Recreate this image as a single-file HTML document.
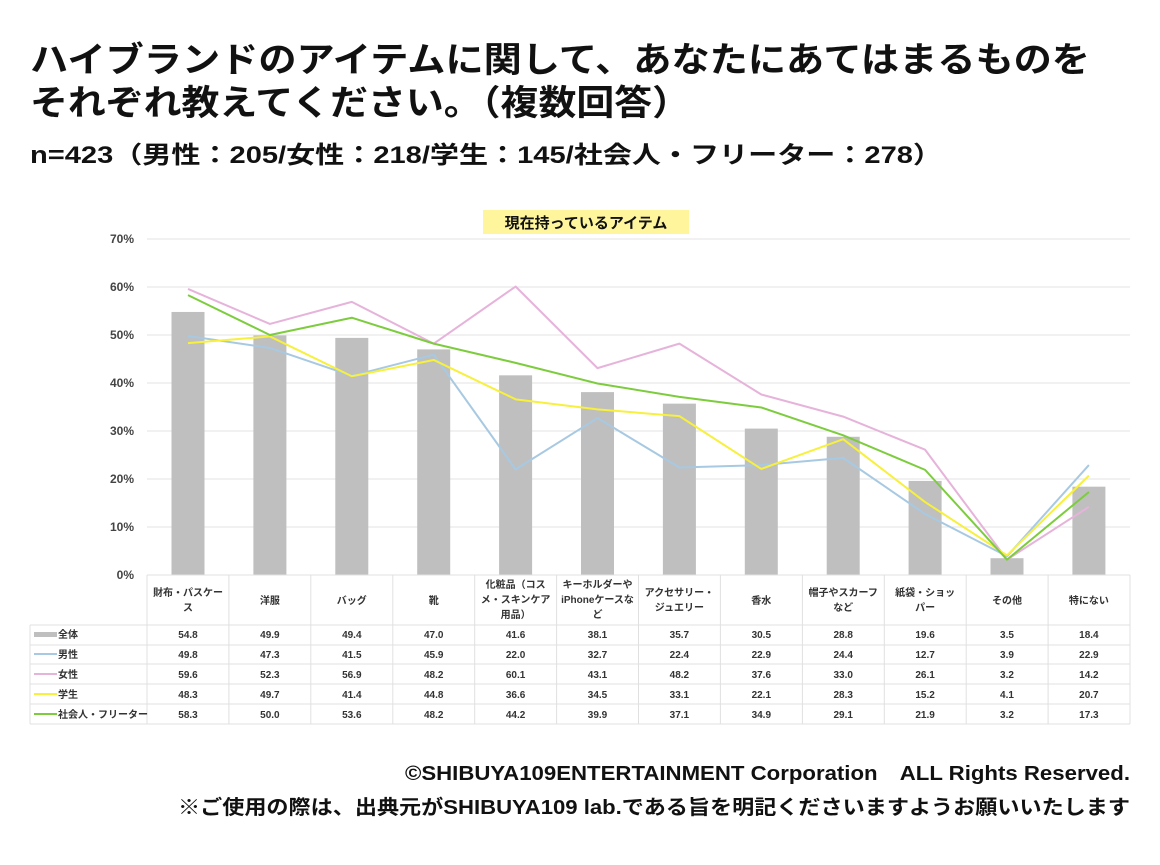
<!DOCTYPE html>
<html><head><meta charset="utf-8"><style>
body{margin:0;background:#fff;width:1160px;height:860px;overflow:hidden}
svg text{font-family:"Liberation Sans","Noto Sans CJK JP",sans-serif}
</style></head><body>
<svg width="1160" height="860" viewBox="0 0 1160 860" xmlns="http://www.w3.org/2000/svg">
<g font-weight="bold" fill="#111">
<text x="30" y="72" font-size="35" textLength="1060" lengthAdjust="spacingAndGlyphs">ハイブランドのアイテムに関して、あなたにあてはまるものを</text>
<text x="30" y="115" font-size="35" textLength="660" lengthAdjust="spacingAndGlyphs">それぞれ教えてください。（複数回答）</text>
<text x="30" y="163" font-size="24" textLength="912" lengthAdjust="spacingAndGlyphs">n=423（男性：205/女性：218/学生：145/社会人・フリーター：278）</text>
</g>
<rect x="483" y="210" width="206" height="24" fill="#fff59d"/>
<text x="586" y="228" font-size="15" font-weight="bold" text-anchor="middle" fill="#111">現在持っているアイテム</text>
<g stroke="#e3e3e3" stroke-width="1">
<line x1="147" y1="239" x2="1130" y2="239"/><line x1="147" y1="287" x2="1130" y2="287"/>
<line x1="147" y1="335" x2="1130" y2="335"/><line x1="147" y1="383" x2="1130" y2="383"/>
<line x1="147" y1="431" x2="1130" y2="431"/><line x1="147" y1="479" x2="1130" y2="479"/>
<line x1="147" y1="527" x2="1130" y2="527"/>
</g>
<g font-size="12" font-weight="bold" fill="#444" text-anchor="end">
<text x="134" y="243">70%</text><text x="134" y="291">60%</text><text x="134" y="339">50%</text>
<text x="134" y="387">40%</text><text x="134" y="435">30%</text><text x="134" y="483">20%</text>
<text x="134" y="531">10%</text><text x="134" y="579">0%</text>
</g>
<g fill="#bfbfbf">
<rect x="171.5" y="311.96" width="33" height="263.04"/>
<rect x="253.4" y="335.48" width="33" height="239.52"/>
<rect x="335.3" y="337.88" width="33" height="237.12"/>
<rect x="417.2" y="349.4" width="33" height="225.6"/>
<rect x="499.1" y="375.32" width="33" height="199.68"/>
<rect x="581" y="392.12" width="33" height="182.88"/>
<rect x="662.9" y="403.64" width="33" height="171.36"/>
<rect x="744.8" y="428.6" width="33" height="146.4"/>
<rect x="826.7" y="436.76" width="33" height="138.24"/>
<rect x="908.6" y="480.92" width="33" height="94.08"/>
<rect x="990.5" y="558.2" width="33" height="16.8"/>
<rect x="1072.4" y="486.68" width="33" height="88.32"/>
</g>
<g fill="none" stroke-width="2" stroke-linejoin="round">
<polyline stroke="#a8c9e2" points="188,335.96 269.9,347.96 351.8,375.8 433.7,354.68 515.6,469.4 597.5,418.04 679.4,467.48 761.3,465.08 843.2,457.88 925.1,514.04 1007,556.28 1088.9,465.08"/>
<polyline stroke="#e6b3da" points="188,288.92 269.9,323.96 351.8,301.88 433.7,343.64 515.6,286.52 597.5,368.12 679.4,343.64 761.3,394.52 843.2,416.6 925.1,449.72 1007,559.64 1088.9,506.84"/>
<polyline stroke="#f7f03c" points="188,343.16 269.9,336.44 351.8,376.28 433.7,359.96 515.6,399.32 597.5,409.4 679.4,416.12 761.3,468.92 843.2,439.16 925.1,502.04 1007,555.32 1088.9,475.64"/>
<polyline stroke="#7dcc3e" points="188,295.16 269.9,335 351.8,317.72 433.7,343.64 515.6,362.84 597.5,383.48 679.4,396.92 761.3,407.48 843.2,435.32 925.1,469.88 1007,559.64 1088.9,491.96"/>
</g>
<g stroke="#e0e0e0" stroke-width="1">
<line x1="147" y1="575" x2="1130" y2="575"/>
<line x1="30" y1="625" x2="1130" y2="625"/><line x1="30" y1="645" x2="1130" y2="645"/>
<line x1="30" y1="664" x2="1130" y2="664"/><line x1="30" y1="684" x2="1130" y2="684"/>
<line x1="30" y1="704" x2="1130" y2="704"/><line x1="30" y1="724" x2="1130" y2="724"/>
<line x1="30" y1="625" x2="30" y2="724"/>
<line x1="147" y1="575" x2="147" y2="724"/><line x1="228.9" y1="575" x2="228.9" y2="724"/>
<line x1="310.8" y1="575" x2="310.8" y2="724"/><line x1="392.8" y1="575" x2="392.8" y2="724"/>
<line x1="474.7" y1="575" x2="474.7" y2="724"/><line x1="556.6" y1="575" x2="556.6" y2="724"/>
<line x1="638.5" y1="575" x2="638.5" y2="724"/><line x1="720.4" y1="575" x2="720.4" y2="724"/>
<line x1="802.4" y1="575" x2="802.4" y2="724"/><line x1="884.3" y1="575" x2="884.3" y2="724"/>
<line x1="966.2" y1="575" x2="966.2" y2="724"/><line x1="1048.1" y1="575" x2="1048.1" y2="724"/>
<line x1="1130" y1="575" x2="1130" y2="724"/>
</g>
<g font-size="10" font-weight="bold" fill="#333" text-anchor="middle">
<text x="188" y="596">財布・パスケー</text><text x="188" y="611">ス</text>
<text x="269.9" y="604">洋服</text>
<text x="351.8" y="604">バッグ</text>
<text x="433.7" y="604">靴</text>
<text x="515.6" y="588">化粧品（コス</text><text x="515.6" y="603">メ・スキンケア</text><text x="515.6" y="618">用品）</text>
<text x="597.5" y="588">キーホルダーや</text><text x="597.5" y="603">iPhoneケースな</text><text x="597.5" y="618">ど</text>
<text x="679.4" y="596">アクセサリー・</text><text x="679.4" y="611">ジュエリー</text>
<text x="761.3" y="604">香水</text>
<text x="843.2" y="596">帽子やスカーフ</text><text x="843.2" y="611">など</text>
<text x="925.1" y="596">紙袋・ショッ</text><text x="925.1" y="611">パー</text>
<text x="1007" y="604">その他</text>
<text x="1088.9" y="604">特にない</text>
</g>
<rect x="34" y="632" width="23" height="5" fill="#bfbfbf"/>
<line x1="34" y1="654" x2="57" y2="654" stroke="#a8c9e2" stroke-width="2"/>
<line x1="34" y1="674" x2="57" y2="674" stroke="#e6b3da" stroke-width="2"/>
<line x1="34" y1="694" x2="57" y2="694" stroke="#f7f03c" stroke-width="2"/>
<line x1="34" y1="714" x2="57" y2="714" stroke="#7dcc3e" stroke-width="2"/>
<g font-size="10" font-weight="bold" fill="#333">
<text x="58" y="638">全体</text><text x="58" y="658">男性</text><text x="58" y="678">女性</text>
<text x="58" y="698">学生</text><text x="58" y="718">社会人・フリーター</text>
</g>
<g font-size="10" font-weight="bold" fill="#333" text-anchor="middle">
<text y="638"><tspan x="188">54.8</tspan><tspan x="269.9">49.9</tspan><tspan x="351.8">49.4</tspan><tspan x="433.7">47.0</tspan><tspan x="515.6">41.6</tspan><tspan x="597.5">38.1</tspan><tspan x="679.4">35.7</tspan><tspan x="761.3">30.5</tspan><tspan x="843.2">28.8</tspan><tspan x="925.1">19.6</tspan><tspan x="1007">3.5</tspan><tspan x="1088.9">18.4</tspan></text>
<text y="658"><tspan x="188">49.8</tspan><tspan x="269.9">47.3</tspan><tspan x="351.8">41.5</tspan><tspan x="433.7">45.9</tspan><tspan x="515.6">22.0</tspan><tspan x="597.5">32.7</tspan><tspan x="679.4">22.4</tspan><tspan x="761.3">22.9</tspan><tspan x="843.2">24.4</tspan><tspan x="925.1">12.7</tspan><tspan x="1007">3.9</tspan><tspan x="1088.9">22.9</tspan></text>
<text y="678"><tspan x="188">59.6</tspan><tspan x="269.9">52.3</tspan><tspan x="351.8">56.9</tspan><tspan x="433.7">48.2</tspan><tspan x="515.6">60.1</tspan><tspan x="597.5">43.1</tspan><tspan x="679.4">48.2</tspan><tspan x="761.3">37.6</tspan><tspan x="843.2">33.0</tspan><tspan x="925.1">26.1</tspan><tspan x="1007">3.2</tspan><tspan x="1088.9">14.2</tspan></text>
<text y="698"><tspan x="188">48.3</tspan><tspan x="269.9">49.7</tspan><tspan x="351.8">41.4</tspan><tspan x="433.7">44.8</tspan><tspan x="515.6">36.6</tspan><tspan x="597.5">34.5</tspan><tspan x="679.4">33.1</tspan><tspan x="761.3">22.1</tspan><tspan x="843.2">28.3</tspan><tspan x="925.1">15.2</tspan><tspan x="1007">4.1</tspan><tspan x="1088.9">20.7</tspan></text>
<text y="718"><tspan x="188">58.3</tspan><tspan x="269.9">50.0</tspan><tspan x="351.8">53.6</tspan><tspan x="433.7">48.2</tspan><tspan x="515.6">44.2</tspan><tspan x="597.5">39.9</tspan><tspan x="679.4">37.1</tspan><tspan x="761.3">34.9</tspan><tspan x="843.2">29.1</tspan><tspan x="925.1">21.9</tspan><tspan x="1007">3.2</tspan><tspan x="1088.9">17.3</tspan></text>
</g>
<g font-size="20" font-weight="bold" fill="#111">
<text x="405" y="780" textLength="725" lengthAdjust="spacingAndGlyphs">©SHIBUYA109ENTERTAINMENT Corporation　ALL Rights Reserved.</text>
<text x="178" y="814" textLength="952" lengthAdjust="spacingAndGlyphs">※ご使用の際は、出典元がSHIBUYA109 lab.である旨を明記くださいますようお願いいたします</text>
</g>
</svg>
</body></html>
